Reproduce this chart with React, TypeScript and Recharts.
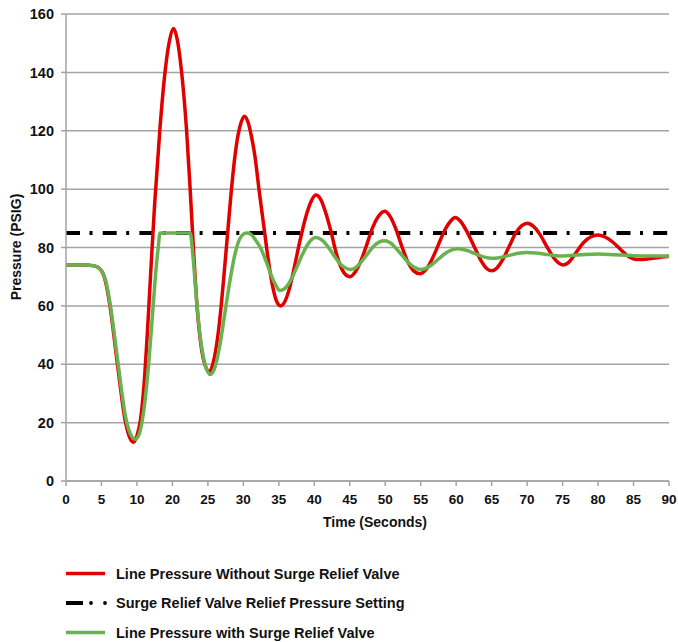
import React from 'react';
import { LineChart, Line, XAxis, YAxis, CartesianGrid } from 'recharts';

// Tick labels as printed on the original chart (note: "15" is absent, ticks evenly spaced)
const xTickLabels = ['0', '5', '10', '20', '25', '30', '35', '40', '45', '50', '55', '60', '65', '70', '75', '80', '85', '90'];
const xTickPositions = xTickLabels.map((_, i) => i);
const yTicks = [0, 20, 40, 60, 80, 100, 120, 140, 160];

const reliefSetting = 85;

// Positions are in tick-slot units (0..17)
const redX = [0, 0.5, 0.8, 1.0, 1.12, 1.24, 1.45, 1.68, 1.8, 1.9, 2.0, 2.1, 2.2, 2.3, 2.4, 2.5, 2.65, 2.8, 2.92, 3.03, 3.14, 3.26, 3.4, 3.5, 3.6, 3.7, 3.8, 3.9, 4.04, 4.15, 4.25, 4.35, 4.45, 4.55, 4.65, 4.75, 4.85, 4.94, 5.03, 5.13, 5.23, 5.33, 5.45, 5.58, 5.7, 5.82, 5.94, 6.05, 6.17, 6.3, 6.45, 6.6, 6.75, 6.9, 7.04, 7.18, 7.32, 7.48, 7.62, 7.78, 7.9, 8.01, 8.15, 8.3, 8.48, 8.65, 8.8, 8.98, 9.12, 9.28, 9.45, 9.62, 9.8, 9.98, 10.15, 10.32, 10.5, 10.68, 10.84, 10.97, 11.12, 11.3, 11.5, 11.7, 11.86, 12.0, 12.15, 12.32, 12.5, 12.68, 12.85, 13.01, 13.17, 13.36, 13.57, 13.78, 13.92, 14.02, 14.18, 14.38, 14.6, 14.8, 15.0, 15.2, 15.42, 15.62, 15.85, 16.09, 16.35, 16.65, 17];
const redY = [74, 74, 73.7, 72, 68, 60, 40, 20, 14.8, 13.3, 15.5, 21, 33, 52, 74, 95, 121, 141, 151, 155, 151, 140, 120, 100, 78, 59, 47, 40.5, 37.5, 40.5, 47, 57, 70, 84, 98, 110, 118.5, 123, 125, 123, 118, 111, 99, 87, 76, 67, 61.5, 60, 61.5, 66, 74, 82.5, 90, 95.5, 98, 96.5, 92, 85, 78, 72.5, 70.5, 70, 71.5, 75, 81, 87, 90.5, 92.4, 91, 87, 81, 75.5, 72, 71, 72.5, 76, 81, 86, 89, 90.3, 89, 85.5, 80.5, 75.5, 72.8, 72, 73, 76, 80.5, 85, 87.5, 88.3, 87.3, 84.5, 80, 76, 74.4, 74, 75, 78.3, 81.8, 83.7, 84.3, 83.6, 81.8, 79.5, 77, 75.9, 76, 76.5, 77];

const greenX = [0, 0.5, 0.8, 1.0, 1.12, 1.24, 1.45, 1.68, 1.82, 1.95, 2.06, 2.18, 2.3, 2.42, 2.52, 2.6, 2.65, 3.5, 3.58, 3.68, 3.8, 3.92, 4.07, 4.2, 4.33, 4.46, 4.6, 4.75, 4.9, 5.08, 5.2, 5.35, 5.5, 5.65, 5.8, 5.92, 6.02, 6.15, 6.3, 6.48, 6.66, 6.84, 7.04, 7.22, 7.4, 7.58, 7.76, 7.9, 8.01, 8.15, 8.32, 8.5, 8.68, 8.84, 8.98, 9.14, 9.32, 9.5, 9.68, 9.85, 10.0, 10.2, 10.42, 10.65, 10.86, 11.06, 11.3, 11.55, 11.8, 12.0, 12.25, 12.5, 12.75, 13.0, 13.25, 13.5, 13.75, 14.0, 14.5, 15.0, 15.5, 16.0, 16.5, 17];
const greenY = [74, 74, 73.7, 72, 68.5, 61, 42, 22, 16, 14.3, 16, 23, 36, 54, 70, 80, 85, 85, 77, 62, 48, 40, 36.5, 39, 46, 56, 67, 77, 83, 85, 84.6, 82.5, 79.5, 75, 70, 67, 65.3, 65.8, 68, 72.5, 77.5, 81.5, 83.4, 82.5, 80, 76.8, 74, 72.9, 72.5, 73, 75, 77.8, 80.5, 81.9, 82.3, 81.6, 79.5, 77, 74.5, 73, 72.5, 73.2, 75.2, 77.6, 79.1, 79.6, 79, 77.8, 76.7, 76.3, 76.6, 77.3, 78, 78.3, 78.1, 77.7, 77.3, 77.1, 77.5, 77.8, 77.5, 77.2, 77.1, 77.1];

const seriesNames = [
  'Line Pressure Without Surge Relief Valve',
  'Surge Relief Valve Relief Pressure Setting',
  'Line Pressure with Surge Relief Valve',
];

const RED = '#e00000';
const GREEN = '#69b24f';
const GRID = '#a3a3a3';
const FONT = '"Liberation Sans", Arial, Helvetica, sans-serif';
const TEXT = '#111111';

export default function App() {
  const redData = redX.map((x, i) => ({ x, v: redY[i] }));
  const greenData = greenX.map((x, i) => ({ x, v: greenY[i] }));
  const reliefData = [
    { x: 0, v: reliefSetting },
    { x: xTickLabels.length - 1, v: reliefSetting },
  ];

  const legendRows = [573.5, 603, 632.5];

  return (
    <div style={{ position: 'absolute', left: 0, top: 0, width: 678, height: 642, background: '#fff' }}>
      <LineChart width={678} height={642} margin={{ top: 14, right: 9, left: 0, bottom: 0 }}>
        <CartesianGrid vertical={false} stroke={GRID} strokeWidth={1.5} />
        <XAxis
          type="number"
          dataKey="x"
          domain={[0, xTickLabels.length - 1]}
          ticks={xTickPositions}
          tickFormatter={(i: number) => xTickLabels[i]}
          interval={0}
          height={161}
          tickSize={5}
          tickMargin={8}
          stroke={GRID}
          strokeWidth={1.5}
          tick={{ fill: TEXT, fontSize: 13.5, fontWeight: 'bold', fontFamily: FONT }}
        />
        <YAxis
          type="number"
          domain={[0, 160]}
          ticks={yTicks}
          interval={0}
          width={66}
          tickSize={5}
          tickMargin={7}
          stroke={GRID}
          strokeWidth={1.5}
          tick={{ fill: TEXT, fontSize: 14.5, fontWeight: 'bold', fontFamily: FONT }}
        />
        <Line
          data={reliefData}
          dataKey="v"
          name={seriesNames[1]}
          type="linear"
          stroke="#000"
          strokeWidth={4}
          strokeDasharray="14 9.5 3 10.2"
          dot={false}
          activeDot={false}
          isAnimationActive={false}
        />
        <Line
          data={redData}
          dataKey="v"
          name={seriesNames[0]}
          type="monotone"
          stroke={RED}
          strokeWidth={3.5}
          dot={false}
          activeDot={false}
          isAnimationActive={false}
        />
        <Line
          data={greenData}
          dataKey="v"
          name={seriesNames[2]}
          type="monotone"
          stroke={GREEN}
          strokeWidth={3.5}
          dot={false}
          activeDot={false}
          isAnimationActive={false}
        />
        <text
          x={16}
          y={247}
          transform="rotate(-90 16 247)"
          textAnchor="middle"
          dominantBaseline="central"
          fontFamily={FONT}
          fontWeight="bold"
          fontSize={14}
          fill={TEXT}
        >
          Pressure (PSIG)
        </text>
        <text
          x={375}
          y={527}
          textAnchor="middle"
          fontFamily={FONT}
          fontWeight="bold"
          fontSize={14}
          fill={TEXT}
        >
          Time (Seconds)
        </text>
        <g>
          <line x1={66} x2={105} y1={legendRows[0]} y2={legendRows[0]} stroke={RED} strokeWidth={3.5} />
          <line x1={66} x2={83} y1={legendRows[1]} y2={legendRows[1]} stroke="#000" strokeWidth={4} />
          <circle cx={91} cy={legendRows[1]} r={1.9} fill="#000" />
          <circle cx={105} cy={legendRows[1]} r={1.9} fill="#000" />
          <line x1={66} x2={105} y1={legendRows[2]} y2={legendRows[2]} stroke={GREEN} strokeWidth={3.5} />
          {seriesNames.map((name, i) => (
            <text
              key={name}
              x={116}
              y={legendRows[i] + 5}
              fontFamily={FONT}
              fontWeight="bold"
              fontSize={14.5}
              fill={TEXT}
            >
              {name}
            </text>
          ))}
        </g>
      </LineChart>
    </div>
  );
}
